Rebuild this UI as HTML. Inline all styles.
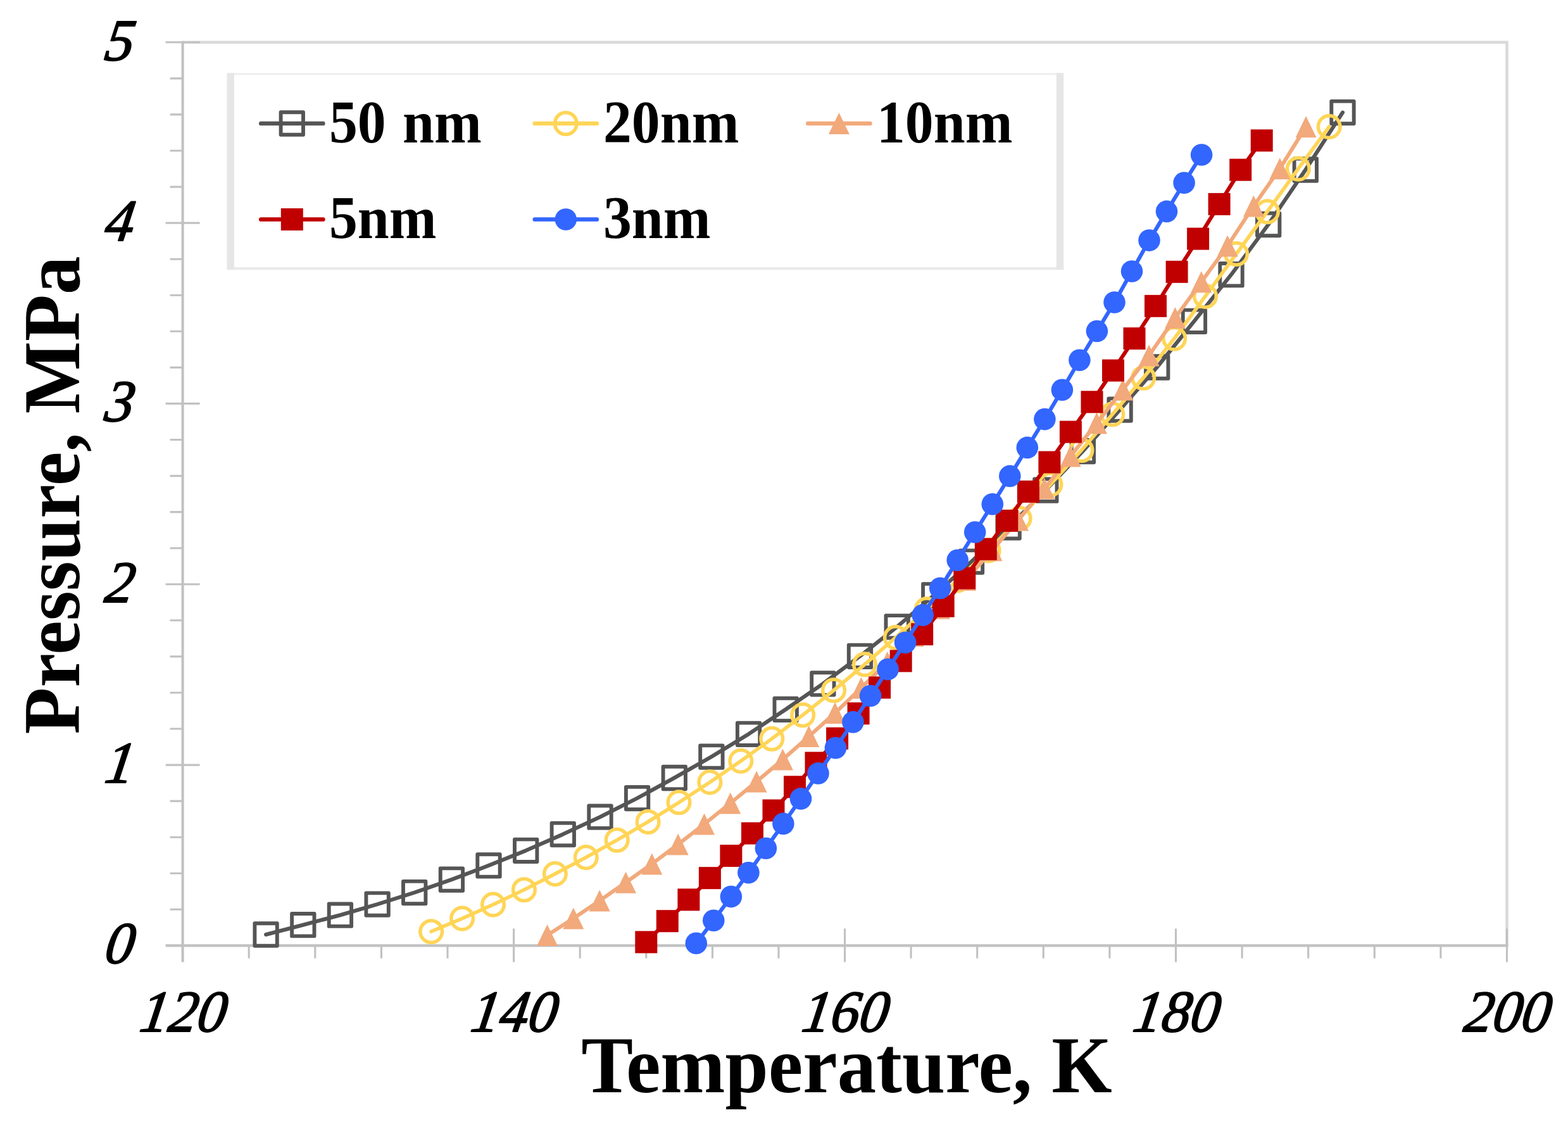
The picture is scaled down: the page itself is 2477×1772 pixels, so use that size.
<!DOCTYPE html>
<html lang="en">
<head>
<meta charset="utf-8">
<title>Pressure vs Temperature</title>
<style>
html,body{margin:0;padding:0;background:#fff;}
body{width:2477px;height:1772px;overflow:hidden;}
svg{display:block;}
.tk{font-family:"Liberation Serif","DejaVu Serif",serif;font-style:italic;font-size:90.5px;fill:#000;stroke:#000;stroke-width:2px;stroke-linejoin:round;}
text{white-space:pre;}
.lg{word-spacing:4px;font-family:"Liberation Serif","DejaVu Serif",serif;font-weight:bold;font-size:93px;fill:#000;}
.ax{font-family:"Liberation Serif","DejaVu Serif",serif;font-weight:bold;font-size:122.7px;fill:#000;}
</style>
</head>
<body>
<svg width="2477" height="1772" viewBox="0 0 2477 1772">
<rect x="0" y="0" width="2477" height="1772" fill="#ffffff"/>
<g id="plot-area" fill="none" stroke="#d9d9d9" stroke-width="4.5">
<path d="M288.6 66.8 H2380.5 V1493.4"/>
</g>
<g id="axes" fill="none" stroke="#c1c1c1" stroke-width="4.1">
<path d="M288.6 64.8 V1519.4"/>
<path d="M261.6 1493.4 H2382.5"/>
</g>
<g id="ticks" fill="none" stroke="#c1c1c1" stroke-width="3.1">
<path d="M268.6 1436.3H288.6 M268.6 1379.3H288.6 M268.6 1322.2H288.6 M268.6 1265.1H288.6 M261.6 1208.1H315.6 M268.6 1151H288.6 M268.6 1094H288.6 M268.6 1036.9H288.6 M268.6 979.8H288.6 M261.6 922.8H315.6 M268.6 865.7H288.6 M268.6 808.6H288.6 M268.6 751.6H288.6 M268.6 694.5H288.6 M261.6 637.4H315.6 M268.6 580.4H288.6 M268.6 523.3H288.6 M268.6 466.2H288.6 M268.6 409.2H288.6 M261.6 352.1H315.6 M268.6 295.1H288.6 M268.6 238H288.6 M268.6 180.9H288.6 M268.6 123.9H288.6 M261.6 66.8H315.6"/>
<path d="M393.2 1493.4V1513.4 M497.8 1493.4V1513.4 M602.4 1493.4V1513.4 M707 1493.4V1513.4 M811.6 1466.4V1519.4 M916.2 1493.4V1513.4 M1020.8 1493.4V1513.4 M1125.4 1493.4V1513.4 M1230 1493.4V1513.4 M1334.6 1466.4V1519.4 M1439.1 1493.4V1513.4 M1543.7 1493.4V1513.4 M1648.3 1493.4V1513.4 M1752.9 1493.4V1513.4 M1857.5 1466.4V1519.4 M1962.1 1493.4V1513.4 M2066.7 1493.4V1513.4 M2171.3 1493.4V1513.4 M2275.9 1493.4V1513.4 M2380.5 1466.4V1519.4"/>
</g>
<g id="y-tick-labels" class="tk" text-anchor="end">
<text transform="translate(208.5 1521.4) scale(1 1.03) skewX(-9)">0</text>
<text transform="translate(208.5 1236.1) scale(1 1.03) skewX(-9)">1</text>
<text transform="translate(208.5 950.8) scale(1 1.03) skewX(-9)">2</text>
<text transform="translate(208.5 665.4) scale(1 1.03) skewX(-9)">3</text>
<text transform="translate(208.5 380.1) scale(1 1.03) skewX(-9)">4</text>
<text transform="translate(208.5 94.8) scale(1 1.03) skewX(-9)">5</text>
</g>
<g id="x-tick-labels" class="tk" text-anchor="middle">
<text transform="translate(286.1 1629) scale(1 1.03) skewX(-9)">120</text>
<text transform="translate(809.1 1629) scale(1 1.03) skewX(-9)">140</text>
<text transform="translate(1332.1 1629) scale(1 1.03) skewX(-9)">160</text>
<text transform="translate(1855 1629) scale(1 1.03) skewX(-9)">180</text>
<text transform="translate(2378 1629) scale(1 1.03) skewX(-9)">200</text>
</g>
<text class="ax" id="x-title" transform="translate(1337.5 1724.6) scale(1 1.034)" text-anchor="middle">Temperature, K</text>
<text class="ax" id="y-title" transform="translate(124.8 782) rotate(-90) scale(0.986 1.034)" text-anchor="middle">Pressure, MPa</text>
<g id="legend">
<rect x="358.5" y="115.3" width="1321.7" height="310.7" fill="#ffffff"/>
<rect x="358.5" y="115.3" width="1321.7" height="3.2" fill="#efefef"/>
<rect x="358.5" y="422" width="1321.7" height="4" fill="#e9e9e9"/>
<rect x="358.5" y="115.3" width="11.4" height="310.7" fill="#e6e6e6"/>
<rect x="1668.8" y="115.3" width="11.4" height="310.7" fill="#e6e6e6"/>
</g>
<g id="series-gray">
<polyline points="420.1,1476 478.8,1460.7 537.4,1445.2 596.1,1428.1 654.7,1409.6 713.4,1389.1 772,1366.9 830.7,1343.3 889.3,1317.6 948,1290.2 1006.6,1260.6 1065.3,1228.5 1123.9,1195.1 1182.6,1159.3 1241.2,1120.4 1299.9,1079.9 1358.5,1036.3 1417.2,989.8 1475.8,939.8 1534.5,887.1 1593.1,832.8 1651.8,774.2 1710.4,712.6 1769.1,647.1 1827.7,580 1886.4,507.3 1945,433.7 2003.7,354.5 2062.3,268.2 2121,177.6" fill="none" stroke="#555555" stroke-width="6.1" stroke-linecap="round" stroke-linejoin="round"/>
<rect x="402.4" y="1458.3" width="35.4" height="35.4" fill="none" stroke="#555555" stroke-width="5.9" stroke-linejoin="round"/>
<rect x="461.1" y="1443" width="35.4" height="35.4" fill="none" stroke="#555555" stroke-width="5.9" stroke-linejoin="round"/>
<rect x="519.7" y="1427.5" width="35.4" height="35.4" fill="none" stroke="#555555" stroke-width="5.9" stroke-linejoin="round"/>
<rect x="578.4" y="1410.4" width="35.4" height="35.4" fill="none" stroke="#555555" stroke-width="5.9" stroke-linejoin="round"/>
<rect x="637" y="1391.9" width="35.4" height="35.4" fill="none" stroke="#555555" stroke-width="5.9" stroke-linejoin="round"/>
<rect x="695.7" y="1371.4" width="35.4" height="35.4" fill="none" stroke="#555555" stroke-width="5.9" stroke-linejoin="round"/>
<rect x="754.3" y="1349.2" width="35.4" height="35.4" fill="none" stroke="#555555" stroke-width="5.9" stroke-linejoin="round"/>
<rect x="813" y="1325.6" width="35.4" height="35.4" fill="none" stroke="#555555" stroke-width="5.9" stroke-linejoin="round"/>
<rect x="871.6" y="1299.9" width="35.4" height="35.4" fill="none" stroke="#555555" stroke-width="5.9" stroke-linejoin="round"/>
<rect x="930.3" y="1272.5" width="35.4" height="35.4" fill="none" stroke="#555555" stroke-width="5.9" stroke-linejoin="round"/>
<rect x="988.9" y="1242.9" width="35.4" height="35.4" fill="none" stroke="#555555" stroke-width="5.9" stroke-linejoin="round"/>
<rect x="1047.6" y="1210.8" width="35.4" height="35.4" fill="none" stroke="#555555" stroke-width="5.9" stroke-linejoin="round"/>
<rect x="1106.2" y="1177.4" width="35.4" height="35.4" fill="none" stroke="#555555" stroke-width="5.9" stroke-linejoin="round"/>
<rect x="1164.9" y="1141.6" width="35.4" height="35.4" fill="none" stroke="#555555" stroke-width="5.9" stroke-linejoin="round"/>
<rect x="1223.5" y="1102.7" width="35.4" height="35.4" fill="none" stroke="#555555" stroke-width="5.9" stroke-linejoin="round"/>
<rect x="1282.2" y="1062.2" width="35.4" height="35.4" fill="none" stroke="#555555" stroke-width="5.9" stroke-linejoin="round"/>
<rect x="1340.8" y="1018.6" width="35.4" height="35.4" fill="none" stroke="#555555" stroke-width="5.9" stroke-linejoin="round"/>
<rect x="1399.5" y="972.1" width="35.4" height="35.4" fill="none" stroke="#555555" stroke-width="5.9" stroke-linejoin="round"/>
<rect x="1458.1" y="922.1" width="35.4" height="35.4" fill="none" stroke="#555555" stroke-width="5.9" stroke-linejoin="round"/>
<rect x="1516.8" y="869.4" width="35.4" height="35.4" fill="none" stroke="#555555" stroke-width="5.9" stroke-linejoin="round"/>
<rect x="1575.4" y="815.1" width="35.4" height="35.4" fill="none" stroke="#555555" stroke-width="5.9" stroke-linejoin="round"/>
<rect x="1634.1" y="756.5" width="35.4" height="35.4" fill="none" stroke="#555555" stroke-width="5.9" stroke-linejoin="round"/>
<rect x="1692.7" y="694.9" width="35.4" height="35.4" fill="none" stroke="#555555" stroke-width="5.9" stroke-linejoin="round"/>
<rect x="1751.4" y="629.4" width="35.4" height="35.4" fill="none" stroke="#555555" stroke-width="5.9" stroke-linejoin="round"/>
<rect x="1810" y="562.3" width="35.4" height="35.4" fill="none" stroke="#555555" stroke-width="5.9" stroke-linejoin="round"/>
<rect x="1868.7" y="489.6" width="35.4" height="35.4" fill="none" stroke="#555555" stroke-width="5.9" stroke-linejoin="round"/>
<rect x="1927.3" y="416" width="35.4" height="35.4" fill="none" stroke="#555555" stroke-width="5.9" stroke-linejoin="round"/>
<rect x="1986" y="336.8" width="35.4" height="35.4" fill="none" stroke="#555555" stroke-width="5.9" stroke-linejoin="round"/>
<rect x="2044.6" y="250.5" width="35.4" height="35.4" fill="none" stroke="#555555" stroke-width="5.9" stroke-linejoin="round"/>
<rect x="2103.3" y="159.9" width="35.4" height="35.4" fill="none" stroke="#555555" stroke-width="5.9" stroke-linejoin="round"/>
</g>
<g id="series-yellow">
<polyline points="681.2,1471.2 730.1,1450.6 779,1428.6 827.9,1405.3 876.9,1380.1 925.8,1354.1 974.7,1326.7 1023.6,1298 1072.5,1267.3 1121.4,1235.4 1170.3,1201.9 1219.3,1166.7 1268.2,1129.3 1317.1,1090.3 1366,1049.3 1414.9,1006.9 1463.8,962.3 1512.7,916.4 1561.6,869.4 1610.6,818.7 1659.5,765.1 1708.4,711 1757.3,654.3 1806.2,596.7 1855.1,534.6 1904,467.9 1953,401 2001.9,334.2 2050.8,266.6 2099.7,200.1" fill="none" stroke="#ffd557" stroke-width="5.7" stroke-linecap="round" stroke-linejoin="round"/>
<circle cx="681.2" cy="1471.2" r="17.3" fill="none" stroke="#ffd557" stroke-width="5.5"/>
<circle cx="730.1" cy="1450.6" r="17.3" fill="none" stroke="#ffd557" stroke-width="5.5"/>
<circle cx="779" cy="1428.6" r="17.3" fill="none" stroke="#ffd557" stroke-width="5.5"/>
<circle cx="827.9" cy="1405.3" r="17.3" fill="none" stroke="#ffd557" stroke-width="5.5"/>
<circle cx="876.9" cy="1380.1" r="17.3" fill="none" stroke="#ffd557" stroke-width="5.5"/>
<circle cx="925.8" cy="1354.1" r="17.3" fill="none" stroke="#ffd557" stroke-width="5.5"/>
<circle cx="974.7" cy="1326.7" r="17.3" fill="none" stroke="#ffd557" stroke-width="5.5"/>
<circle cx="1023.6" cy="1298" r="17.3" fill="none" stroke="#ffd557" stroke-width="5.5"/>
<circle cx="1072.5" cy="1267.3" r="17.3" fill="none" stroke="#ffd557" stroke-width="5.5"/>
<circle cx="1121.4" cy="1235.4" r="17.3" fill="none" stroke="#ffd557" stroke-width="5.5"/>
<circle cx="1170.3" cy="1201.9" r="17.3" fill="none" stroke="#ffd557" stroke-width="5.5"/>
<circle cx="1219.3" cy="1166.7" r="17.3" fill="none" stroke="#ffd557" stroke-width="5.5"/>
<circle cx="1268.2" cy="1129.3" r="17.3" fill="none" stroke="#ffd557" stroke-width="5.5"/>
<circle cx="1317.1" cy="1090.3" r="17.3" fill="none" stroke="#ffd557" stroke-width="5.5"/>
<circle cx="1366" cy="1049.3" r="17.3" fill="none" stroke="#ffd557" stroke-width="5.5"/>
<circle cx="1414.9" cy="1006.9" r="17.3" fill="none" stroke="#ffd557" stroke-width="5.5"/>
<circle cx="1463.8" cy="962.3" r="17.3" fill="none" stroke="#ffd557" stroke-width="5.5"/>
<circle cx="1512.7" cy="916.4" r="17.3" fill="none" stroke="#ffd557" stroke-width="5.5"/>
<circle cx="1561.6" cy="869.4" r="17.3" fill="none" stroke="#ffd557" stroke-width="5.5"/>
<circle cx="1610.6" cy="818.7" r="17.3" fill="none" stroke="#ffd557" stroke-width="5.5"/>
<circle cx="1659.5" cy="765.1" r="17.3" fill="none" stroke="#ffd557" stroke-width="5.5"/>
<circle cx="1708.4" cy="711" r="17.3" fill="none" stroke="#ffd557" stroke-width="5.5"/>
<circle cx="1757.3" cy="654.3" r="17.3" fill="none" stroke="#ffd557" stroke-width="5.5"/>
<circle cx="1806.2" cy="596.7" r="17.3" fill="none" stroke="#ffd557" stroke-width="5.5"/>
<circle cx="1855.1" cy="534.6" r="17.3" fill="none" stroke="#ffd557" stroke-width="5.5"/>
<circle cx="1904" cy="467.9" r="17.3" fill="none" stroke="#ffd557" stroke-width="5.5"/>
<circle cx="1953" cy="401" r="17.3" fill="none" stroke="#ffd557" stroke-width="5.5"/>
<circle cx="2001.9" cy="334.2" r="17.3" fill="none" stroke="#ffd557" stroke-width="5.5"/>
<circle cx="2050.8" cy="266.6" r="17.3" fill="none" stroke="#ffd557" stroke-width="5.5"/>
<circle cx="2099.7" cy="200.1" r="17.3" fill="none" stroke="#ffd557" stroke-width="5.5"/>
</g>
<g id="series-orange">
<polyline points="864.5,1477.1 905.8,1450.4 947.2,1422.4 988.5,1393.8 1029.8,1364.4 1071.2,1333.5 1112.5,1301.5 1153.8,1268.5 1195.1,1234.4 1236.5,1199.6 1277.8,1163 1319.1,1126.1 1360.5,1086.5 1401.8,1046.1 1443.1,1004.2 1484.5,960.8 1525.8,915.9 1567.1,869.2 1608.5,821.4 1649.8,771.6 1691.1,720.6 1732.5,668.3 1773.8,615.5 1815.1,561.4 1856.4,502.1 1897.8,445.3 1939.1,388.4 1980.4,325.4 2021.8,266.3 2063.1,200.2" fill="none" stroke="#f2a97b" stroke-width="6.0" stroke-linecap="round" stroke-linejoin="round"/>
<path d="M864.5 1460.1L881 1494.1H848Z" fill="#f2a97b"/>
<path d="M905.8 1433.4L922.3 1467.4H889.3Z" fill="#f2a97b"/>
<path d="M947.2 1405.4L963.7 1439.4H930.7Z" fill="#f2a97b"/>
<path d="M988.5 1376.8L1005 1410.8H972Z" fill="#f2a97b"/>
<path d="M1029.8 1347.4L1046.3 1381.4H1013.3Z" fill="#f2a97b"/>
<path d="M1071.2 1316.5L1087.7 1350.5H1054.7Z" fill="#f2a97b"/>
<path d="M1112.5 1284.5L1129 1318.5H1096Z" fill="#f2a97b"/>
<path d="M1153.8 1251.5L1170.3 1285.5H1137.3Z" fill="#f2a97b"/>
<path d="M1195.1 1217.4L1211.6 1251.4H1178.6Z" fill="#f2a97b"/>
<path d="M1236.5 1182.6L1253 1216.6H1220Z" fill="#f2a97b"/>
<path d="M1277.8 1146L1294.3 1180H1261.3Z" fill="#f2a97b"/>
<path d="M1319.1 1109.1L1335.6 1143.1H1302.6Z" fill="#f2a97b"/>
<path d="M1360.5 1069.5L1377 1103.5H1344Z" fill="#f2a97b"/>
<path d="M1401.8 1029.1L1418.3 1063.1H1385.3Z" fill="#f2a97b"/>
<path d="M1443.1 987.2L1459.6 1021.2H1426.6Z" fill="#f2a97b"/>
<path d="M1484.5 943.8L1501 977.8H1468Z" fill="#f2a97b"/>
<path d="M1525.8 898.9L1542.3 932.9H1509.3Z" fill="#f2a97b"/>
<path d="M1567.1 852.2L1583.6 886.2H1550.6Z" fill="#f2a97b"/>
<path d="M1608.5 804.4L1625 838.4H1592Z" fill="#f2a97b"/>
<path d="M1649.8 754.6L1666.3 788.6H1633.3Z" fill="#f2a97b"/>
<path d="M1691.1 703.6L1707.6 737.6H1674.6Z" fill="#f2a97b"/>
<path d="M1732.5 651.3L1749 685.3H1716Z" fill="#f2a97b"/>
<path d="M1773.8 598.5L1790.3 632.5H1757.3Z" fill="#f2a97b"/>
<path d="M1815.1 544.4L1831.6 578.4H1798.6Z" fill="#f2a97b"/>
<path d="M1856.4 485.1L1872.9 519.1H1839.9Z" fill="#f2a97b"/>
<path d="M1897.8 428.3L1914.3 462.3H1881.3Z" fill="#f2a97b"/>
<path d="M1939.1 371.4L1955.6 405.4H1922.6Z" fill="#f2a97b"/>
<path d="M1980.4 308.4L1996.9 342.4H1963.9Z" fill="#f2a97b"/>
<path d="M2021.8 249.3L2038.3 283.3H2005.3Z" fill="#f2a97b"/>
<path d="M2063.1 183.2L2079.6 217.2H2046.6Z" fill="#f2a97b"/>
</g>
<g id="series-red">
<polyline points="1020.8,1487.9 1054.3,1454.7 1087.9,1420.9 1121.4,1386.7 1154.9,1351.6 1188.5,1316.1 1222,1280 1255.5,1242.8 1289,1204.9 1322.6,1166.2 1356.1,1126.8 1389.6,1085.9 1423.2,1043.9 1456.7,1001.7 1490.2,957.3 1523.8,913.1 1557.3,867.2 1590.8,822.4 1624.4,776.4 1657.9,730 1691.4,682.1 1725,634.8 1758.5,585.1 1792,534.6 1825.5,483.3 1859.1,429.3 1892.6,377.1 1926.1,322.4 1959.7,268.2 1993.2,221.9" fill="none" stroke="#c00000" stroke-width="6.1" stroke-linecap="round" stroke-linejoin="round"/>
<rect x="1003.3" y="1470.4" width="35" height="35" fill="#c00000"/>
<rect x="1036.8" y="1437.2" width="35" height="35" fill="#c00000"/>
<rect x="1070.4" y="1403.4" width="35" height="35" fill="#c00000"/>
<rect x="1103.9" y="1369.2" width="35" height="35" fill="#c00000"/>
<rect x="1137.4" y="1334.1" width="35" height="35" fill="#c00000"/>
<rect x="1171" y="1298.6" width="35" height="35" fill="#c00000"/>
<rect x="1204.5" y="1262.5" width="35" height="35" fill="#c00000"/>
<rect x="1238" y="1225.3" width="35" height="35" fill="#c00000"/>
<rect x="1271.5" y="1187.4" width="35" height="35" fill="#c00000"/>
<rect x="1305.1" y="1148.7" width="35" height="35" fill="#c00000"/>
<rect x="1338.6" y="1109.3" width="35" height="35" fill="#c00000"/>
<rect x="1372.1" y="1068.4" width="35" height="35" fill="#c00000"/>
<rect x="1405.7" y="1026.4" width="35" height="35" fill="#c00000"/>
<rect x="1439.2" y="984.2" width="35" height="35" fill="#c00000"/>
<rect x="1472.7" y="939.8" width="35" height="35" fill="#c00000"/>
<rect x="1506.3" y="895.6" width="35" height="35" fill="#c00000"/>
<rect x="1539.8" y="849.7" width="35" height="35" fill="#c00000"/>
<rect x="1573.3" y="804.9" width="35" height="35" fill="#c00000"/>
<rect x="1606.9" y="758.9" width="35" height="35" fill="#c00000"/>
<rect x="1640.4" y="712.5" width="35" height="35" fill="#c00000"/>
<rect x="1673.9" y="664.6" width="35" height="35" fill="#c00000"/>
<rect x="1707.5" y="617.3" width="35" height="35" fill="#c00000"/>
<rect x="1741" y="567.6" width="35" height="35" fill="#c00000"/>
<rect x="1774.5" y="517.1" width="35" height="35" fill="#c00000"/>
<rect x="1808" y="465.8" width="35" height="35" fill="#c00000"/>
<rect x="1841.6" y="411.8" width="35" height="35" fill="#c00000"/>
<rect x="1875.1" y="359.6" width="35" height="35" fill="#c00000"/>
<rect x="1908.6" y="304.9" width="35" height="35" fill="#c00000"/>
<rect x="1942.2" y="250.7" width="35" height="35" fill="#c00000"/>
<rect x="1975.7" y="204.4" width="35" height="35" fill="#c00000"/>
</g>
<g id="series-blue">
<polyline points="1099.8,1489.8 1127.3,1453.7 1154.9,1416.1 1182.4,1378.2 1209.9,1339.8 1237.4,1300.9 1265,1261.4 1292.5,1221.4 1320,1181.2 1347.5,1140.4 1375.1,1099 1402.6,1057.1 1430.1,1014.7 1457.7,971.5 1485.2,929 1512.7,884.7 1540.2,840.5 1567.8,796.3 1595.3,751.9 1622.8,706.9 1650.4,662.1 1677.9,615.8 1705.4,568.7 1732.9,523 1760.5,477.5 1788,428.5 1815.5,379.6 1843,333.9 1870.6,288.7 1898.1,244.5" fill="none" stroke="#3366ff" stroke-width="6.1" stroke-linecap="round" stroke-linejoin="round"/>
<circle cx="1099.8" cy="1489.8" r="17.3" fill="#3366ff"/>
<circle cx="1127.3" cy="1453.7" r="17.3" fill="#3366ff"/>
<circle cx="1154.9" cy="1416.1" r="17.3" fill="#3366ff"/>
<circle cx="1182.4" cy="1378.2" r="17.3" fill="#3366ff"/>
<circle cx="1209.9" cy="1339.8" r="17.3" fill="#3366ff"/>
<circle cx="1237.4" cy="1300.9" r="17.3" fill="#3366ff"/>
<circle cx="1265" cy="1261.4" r="17.3" fill="#3366ff"/>
<circle cx="1292.5" cy="1221.4" r="17.3" fill="#3366ff"/>
<circle cx="1320" cy="1181.2" r="17.3" fill="#3366ff"/>
<circle cx="1347.5" cy="1140.4" r="17.3" fill="#3366ff"/>
<circle cx="1375.1" cy="1099" r="17.3" fill="#3366ff"/>
<circle cx="1402.6" cy="1057.1" r="17.3" fill="#3366ff"/>
<circle cx="1430.1" cy="1014.7" r="17.3" fill="#3366ff"/>
<circle cx="1457.7" cy="971.5" r="17.3" fill="#3366ff"/>
<circle cx="1485.2" cy="929" r="17.3" fill="#3366ff"/>
<circle cx="1512.7" cy="884.7" r="17.3" fill="#3366ff"/>
<circle cx="1540.2" cy="840.5" r="17.3" fill="#3366ff"/>
<circle cx="1567.8" cy="796.3" r="17.3" fill="#3366ff"/>
<circle cx="1595.3" cy="751.9" r="17.3" fill="#3366ff"/>
<circle cx="1622.8" cy="706.9" r="17.3" fill="#3366ff"/>
<circle cx="1650.4" cy="662.1" r="17.3" fill="#3366ff"/>
<circle cx="1677.9" cy="615.8" r="17.3" fill="#3366ff"/>
<circle cx="1705.4" cy="568.7" r="17.3" fill="#3366ff"/>
<circle cx="1732.9" cy="523" r="17.3" fill="#3366ff"/>
<circle cx="1760.5" cy="477.5" r="17.3" fill="#3366ff"/>
<circle cx="1788" cy="428.5" r="17.3" fill="#3366ff"/>
<circle cx="1815.5" cy="379.6" r="17.3" fill="#3366ff"/>
<circle cx="1843" cy="333.9" r="17.3" fill="#3366ff"/>
<circle cx="1870.6" cy="288.7" r="17.3" fill="#3366ff"/>
<circle cx="1898.1" cy="244.5" r="17.3" fill="#3366ff"/>
</g>
<g id="legend-entries">
<path d="M412.3 195H510.3" fill="none" stroke="#555555" stroke-width="6.7" stroke-linecap="round"/>
<rect x="443.6" y="177.3" width="35.4" height="35.4" fill="none" stroke="#555555" stroke-width="5.9" stroke-linejoin="round"/>
<text class="lg" transform="translate(520 224.5) scale(0.965 1.03)">50 nm</text>
<path d="M844.8 195H942.8" fill="none" stroke="#ffd557" stroke-width="6.7" stroke-linecap="round"/>
<circle cx="893.8" cy="195" r="17.3" fill="none" stroke="#ffd557" stroke-width="5.5"/>
<text class="lg" transform="translate(953 224.5) scale(0.965 1.03)">20nm</text>
<path d="M1276.4 195H1374.4" fill="none" stroke="#f2a97b" stroke-width="6.7" stroke-linecap="round"/>
<path d="M1325.4 178L1341.9 212H1308.9Z" fill="#f2a97b"/>
<text class="lg" transform="translate(1385 224.5) scale(0.965 1.03)">10nm</text>
<path d="M412.3 346.5H510.3" fill="none" stroke="#c00000" stroke-width="6.7" stroke-linecap="round"/>
<rect x="443.8" y="329" width="35" height="35" fill="#c00000"/>
<text class="lg" transform="translate(520 376) scale(0.965 1.03)">5nm</text>
<path d="M844.8 346.5H942.8" fill="none" stroke="#3366ff" stroke-width="6.7" stroke-linecap="round"/>
<circle cx="893.8" cy="346.5" r="17.3" fill="#3366ff"/>
<text class="lg" transform="translate(953 376) scale(0.965 1.03)">3nm</text>
</g>
</svg>
</body>
</html>
